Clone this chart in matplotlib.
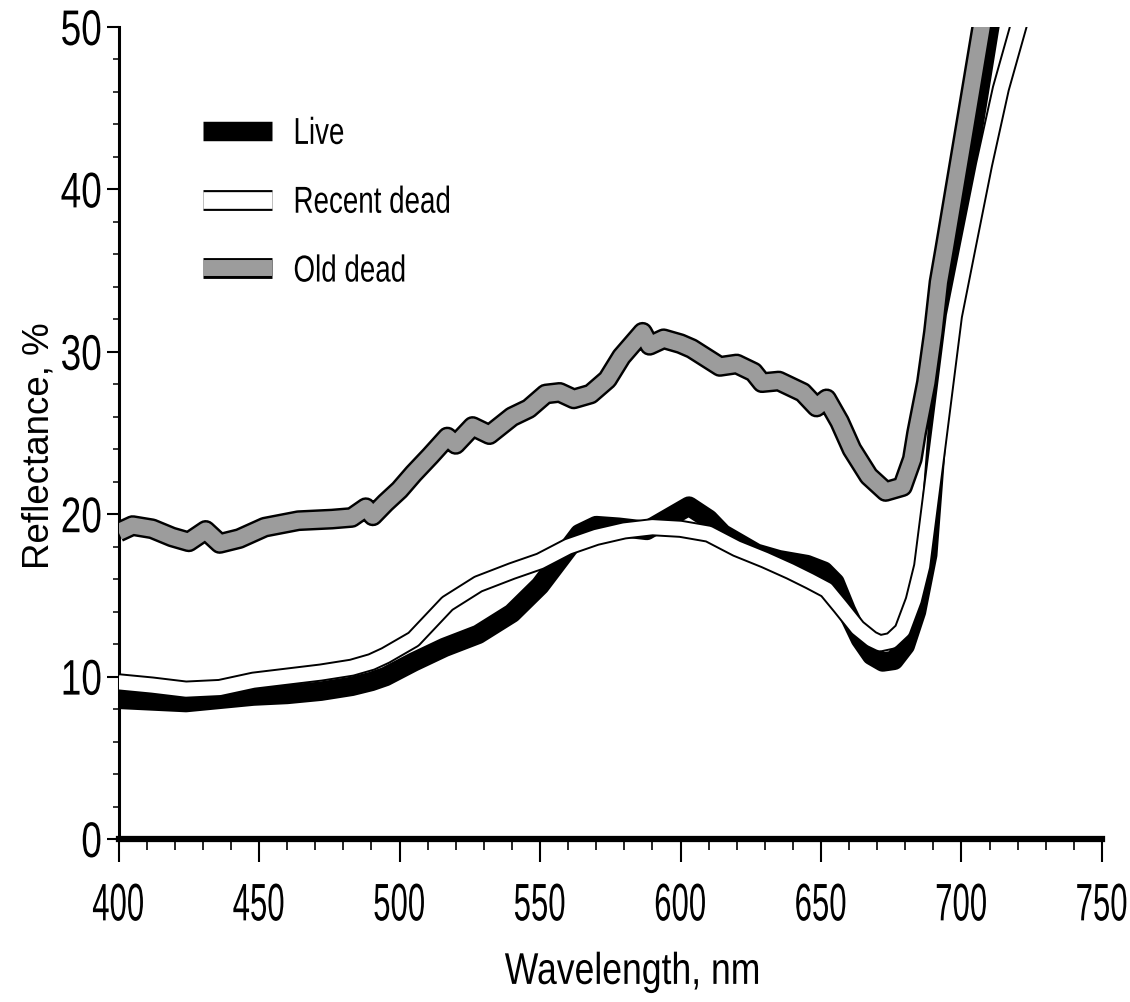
import matplotlib
matplotlib.use('Agg')
import matplotlib.pyplot as plt
import matplotlib.patheffects as pe
from matplotlib.ticker import MultipleLocator
from matplotlib.lines import Line2D
from matplotlib.legend_handler import HandlerTuple
from matplotlib.font_manager import FontProperties
from matplotlib.transforms import Affine2D

# ---------------- data ----------------
wl_live = [400, 412, 424, 436, 448, 460, 472, 483, 490, 495, 505, 516, 528, 540,
           550, 557, 564, 570, 578, 588, 596, 603, 610, 615, 627, 635, 645, 651,
           655, 659, 664, 668, 672, 676, 680, 684, 688, 692, 696, 699, 704, 711]
refl_live = [8.6, 8.5, 8.4, 8.6, 8.8, 8.9, 9.1, 9.4, 9.7, 10.0, 10.9, 11.8, 12.6, 13.9,
             15.6, 17.2, 18.8, 19.3, 19.2, 19.0, 19.8, 20.5, 19.7, 18.8, 17.6, 17.2, 16.9, 16.5,
             15.8, 14.1, 12.3, 11.3, 10.9, 11.0, 11.9, 14.0, 17.5, 26.5, 32.5, 37.0, 43.5, 51.0]

wl_recent = [400, 412, 424, 436, 448, 460, 472, 483, 490, 495, 505, 517, 528, 540,
             550, 560, 570, 580, 590, 600, 610, 620, 630, 639, 646, 652, 657, 663,
             668, 671, 675, 679, 683, 686, 691.3, 697.3, 702, 708, 714, 721]
refl_recent = [9.65, 9.45, 9.2, 9.3, 9.75, 10.0, 10.25, 10.55, 10.9, 11.3, 12.3, 14.5, 15.7, 16.5,
               17.1, 18.0, 18.6, 19.0, 19.2, 19.1, 18.8, 17.9, 17.2, 16.5, 15.9, 15.35, 14.3, 13.0,
               12.3, 12.05, 12.2, 12.85, 14.7, 16.8, 24.0, 32.2, 36.3, 41.5, 46.2, 50.5]

wl_old = [400, 405, 412, 419, 425, 431, 436, 443, 452, 464, 476, 483, 488, 490.5,
          495, 500, 505, 511, 517, 520, 526, 532, 540, 546, 552, 557, 562, 568,
          574, 579, 586.5, 589, 594, 600, 604, 614, 620, 626, 629, 635, 643.5, 648.4,
          652, 656.6, 661, 667, 673, 679, 682.5, 684, 687.5, 690, 692, 694, 700, 707.5, 709]
refl_old = [18.9, 19.3, 19.1, 18.6, 18.3, 19.0, 18.2, 18.5, 19.2, 19.6, 19.7, 19.8, 20.4, 19.9,
            20.7, 21.5, 22.5, 23.6, 24.75, 24.3, 25.4, 24.9, 26.0, 26.5, 27.4, 27.5, 27.1, 27.4,
            28.3, 29.7, 31.2, 30.4, 30.8, 30.5, 30.2, 29.1, 29.25, 28.75, 28.1, 28.2, 27.5, 26.6,
            27.1, 25.7, 24.0, 22.35, 21.4, 21.7, 23.4, 25.0, 28.1, 31.2, 34.3, 36.3, 42.5, 50.3, 51.5]

series_labels = ['Live', 'Recent dead', 'Old dead']
x_ticks = [400, 450, 500, 550, 600, 650, 700, 750]
x_tick_labels = ['400', '450', '500', '550', '600', '650', '700', '750']
y_ticks = [0, 10, 20, 30, 40, 50]
y_tick_labels = ['0', '10', '20', '30', '40', '50']
x_label = 'Wavelength, nm'
y_label = 'Reflectance, %'


# ---------------- a path effect that draws text horizontally condensed ----------------
class Condense(pe.AbstractPathEffect):
    def __init__(self, sx=0.7, anchor='center'):
        super().__init__()
        self.sx = sx
        self.anchor = anchor

    def draw_path(self, renderer, gc, tpath, affine, rgbFace=None):
        xs = tpath.vertices[:, 0]
        if len(xs) == 0:
            return
        if self.anchor == 'center':
            cx = 0.5 * (xs.min() + xs.max())
        elif self.anchor == 'right':
            cx = xs.max()
        else:
            cx = xs.min()
        t = Affine2D().translate(-cx, 0).scale(self.sx, 1.0).translate(cx, 0) + affine
        renderer.draw_path(gc, tpath, t, rgbFace)


FONT = ['Liberation Sans', 'DejaVu Sans']
GRAY = '#9c9c9c'

fig = plt.figure(figsize=(11.3, 10.03), dpi=100)
ax = fig.add_axes([0.1049, 0.1625, 0.8703, 0.8096])

kw = dict(solid_joinstyle='round', solid_capstyle='butt')
ax.plot(wl_live, refl_live, color='black', lw=14, zorder=3, **kw)
ax.plot(wl_recent, refl_recent, color='black', lw=13, zorder=4, **kw)
ax.plot(wl_recent, refl_recent, color='white', lw=10.2, zorder=4.1, **kw)
ax.plot(wl_old, refl_old, color='black', lw=15, zorder=5, **kw)
ax.plot(wl_old, refl_old, color=GRAY, lw=11.5, zorder=5.1, **kw)

ax.set_xlim(400, 750)
ax.set_ylim(0, 50)

for s in ['top', 'right']:
    ax.spines[s].set_visible(False)
ax.spines['left'].set_linewidth(2.2)
ax.spines['bottom'].set_linewidth(4.5)

ax.set_xticks(x_ticks)
ax.set_xticklabels(x_tick_labels, fontfamily=FONT, fontsize=38)
ax.set_yticks(y_ticks)
ax.set_yticklabels(y_tick_labels, fontfamily=FONT, fontsize=36)
for t in ax.get_xticklabels():
    t.set_path_effects([Condense(0.59, 'center')])
for t in ax.get_yticklabels():
    t.set_path_effects([Condense(0.74, 'right')])
ax.xaxis.set_minor_locator(MultipleLocator(10))
ax.yaxis.set_minor_locator(MultipleLocator(2))
ax.tick_params(axis='x', which='major', direction='out', length=16.5, width=1.5, pad=14)
ax.tick_params(axis='x', which='minor', direction='out', length=8, width=1.2)
ax.tick_params(axis='y', which='major', direction='out', length=8.6, width=1.5, pad=3)
ax.tick_params(axis='y', which='minor', direction='out', length=4.3, width=1.1)

xl = ax.set_xlabel(x_label, fontfamily=FONT, fontsize=32)
xl.set_path_effects([Condense(0.8, 'center')])
ax.xaxis.set_label_coords(0.5232, -0.139)
ax.set_ylabel(y_label, fontfamily=FONT, fontsize=26.5)
ax.yaxis.set_label_coords(-0.063, 0.486)

h_live = Line2D([], [], color='black', lw=14, solid_capstyle='butt')
h_recent = (Line2D([], [], color='black', lw=15, solid_capstyle='butt'),
            Line2D([], [], color='white', lw=12, solid_capstyle='butt'))
h_old = (Line2D([], [], color='black', lw=15, solid_capstyle='butt'),
         Line2D([], [], color=GRAY, lw=11.5, solid_capstyle='butt'))
leg = ax.legend([h_live, h_recent, h_old], series_labels,
                handler_map={tuple: HandlerTuple(ndivide=1, pad=0)},
                loc='upper left', bbox_to_anchor=(0.086, 0.8905), frameon=False,
                borderpad=0, borderaxespad=0, handlelength=1.84, handletextpad=0.57,
                labelspacing=0.875, prop=FontProperties(family=FONT, size=27))
for t in leg.get_texts():
    t.set_path_effects([Condense(0.74, 'left')])

fig.savefig('out.png', dpi=100)
